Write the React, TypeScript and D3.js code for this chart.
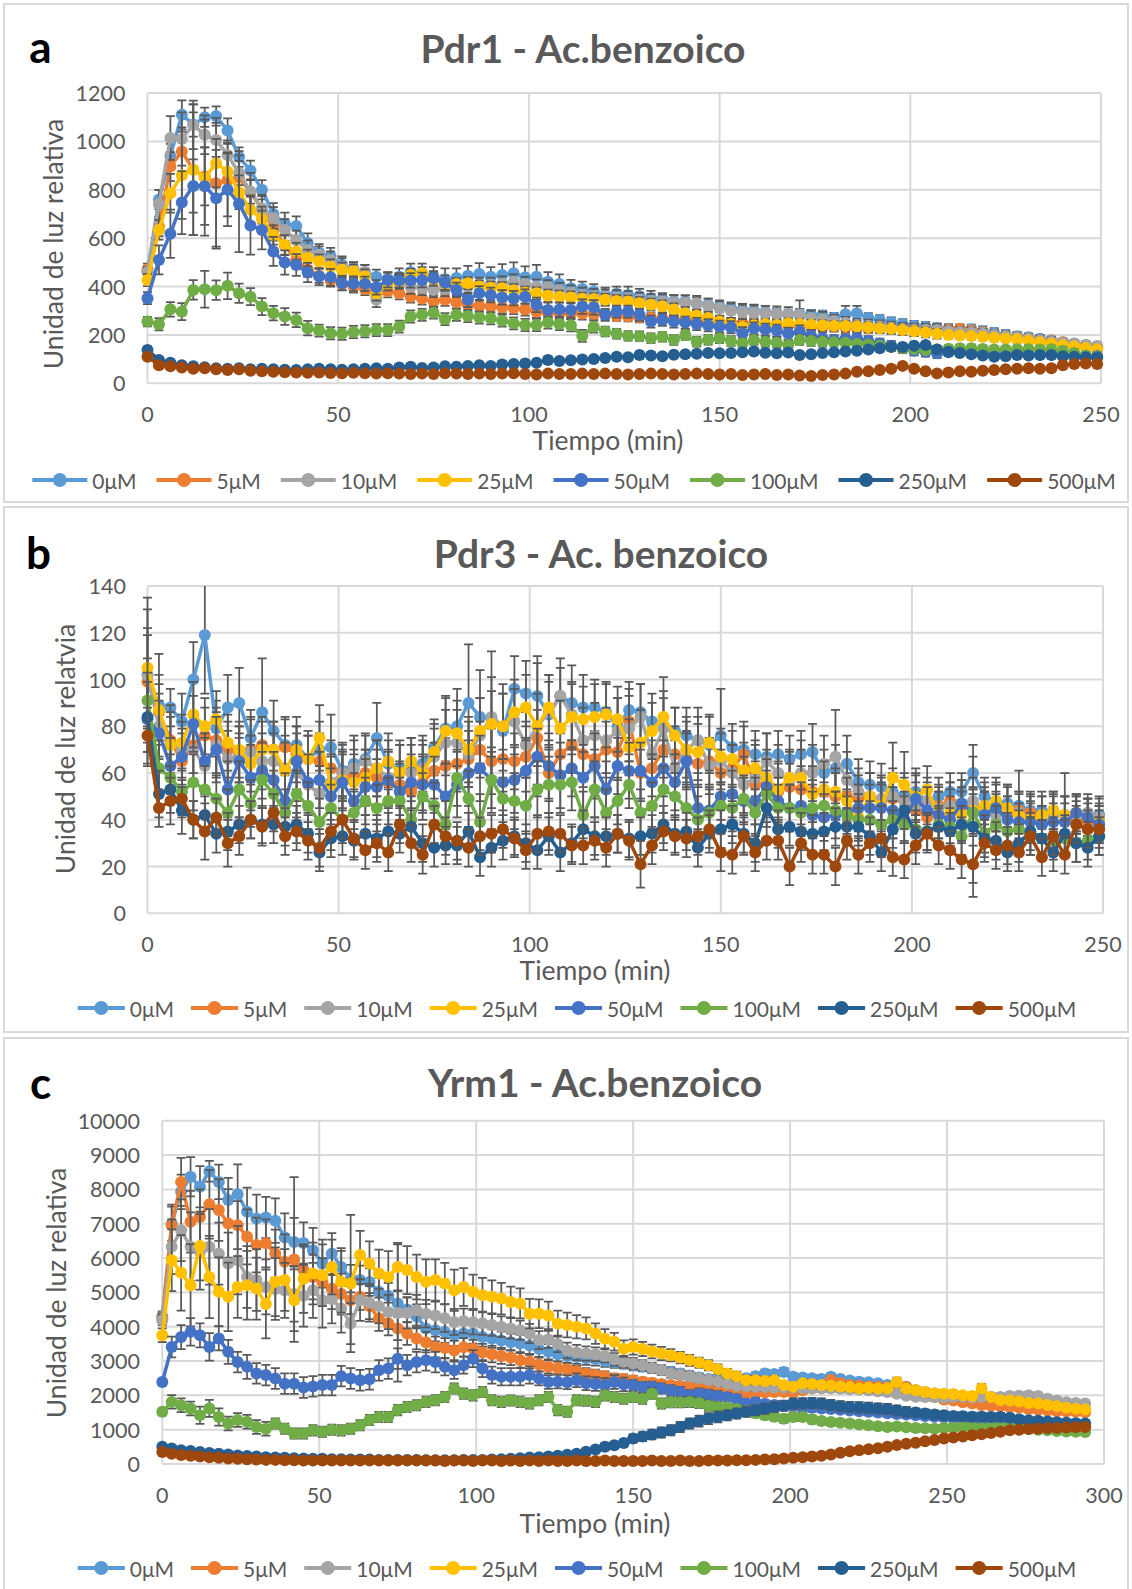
import React from 'react';
import * as d3 from 'd3';

const CONC = ['0μM', '5μM', '10μM', '25μM', '50μM', '100μM', '250μM', '500μM'];
const COLORS = ['#5B9BD5', '#ED7D31', '#A5A5A5', '#FFC000', '#4472C4', '#70AD47', '#255E91', '#9E480E'];
const STEP_MIN = 3;

// ---------- Panel a : Pdr1 ----------
const pdr1_0 = [460,760,940,1110,1070,1100,1105,1045,935,880,800,700,660,650,580,540,525,490,470,460,440,430,440,460,455,440,430,435,445,452,440,448,455,438,440,420,410,393,390,380,365,370,365,360,352,348,340,338,330,325,318,310,303,300,295,290,285,288,283,280,271,285,290,270,262,252,245,238,234,228,225,224,223,215,208,200,195,190,184,178,170,165,158,151];
const pdr1_5 = [470,648,896,958,883,855,827,840,850,790,720,640,570,510,470,445,425,410,400,390,360,380,372,358,350,338,345,335,324,320,317,314,311,305,296,292,290,290,288,286,284,278,276,272,270,268,266,262,260,256,252,250,248,246,245,243,240,238,236,234,234,232,230,228,228,226,224,225,222,220,222,225,218,210,200,195,190,185,179,175,170,162,156,150];
const pdr1_10 = [460,740,1014,1010,1068,1027,1006,944,869,793,724,683,634,591,551,531,510,482,471,460,345,427,420,400,395,386,390,395,400,407,407,412,420,410,400,397,385,375,365,360,358,355,352,345,340,338,335,333,331,320,310,300,295,292,290,288,285,283,270,265,258,250,241,238,235,230,225,222,221,220,216,212,210,205,200,195,190,185,178,172,168,162,158,154];
const pdr1_25 = [427,634,786,860,883,850,910,875,790,717,680,613,572,545,518,503,482,469,462,441,372,414,420,448,455,430,407,410,414,400,395,393,385,375,372,362,358,355,350,348,345,340,338,331,325,318,305,290,280,270,255,245,234,240,245,241,248,245,242,240,238,237,235,232,228,225,220,215,210,205,200,198,196,192,188,185,182,176,170,164,158,152,146,141];
const pdr1_50 = [352,510,618,747,816,815,765,800,742,652,634,545,499,489,458,441,438,414,412,411,397,427,425,425,427,434,416,386,345,372,365,355,352,358,324,303,305,303,317,314,283,296,296,283,255,262,255,251,245,240,234,232,207,227,222,218,205,214,196,186,179,183,186,175,165,155,145,135,130,124,128,130,132,128,125,124,122,120,118,118,116,115,114,113];
const pdr1_100 = [255,244,306,296,386,389,385,403,372,358,317,290,276,262,228,218,207,205,212,215,220,220,234,276,283,292,265,283,278,272,269,259,248,241,241,251,245,240,196,234,214,205,196,195,186,192,179,200,172,180,186,175,165,179,172,168,158,179,175,172,170,168,162,160,155,150,145,142,138,140,143,145,145,142,140,140,141,141,140,141,135,125,115,110];
const pdr1_250 = [138,96,85,75,70,66,62,60,62,58,60,58,56,55,58,60,58,56,58,60,62,60,65,68,63,65,70,68,72,75,72,78,80,82,85,96,92,95,98,100,105,110,108,117,115,112,118,120,122,125,124,125,128,131,126,124,127,117,120,125,128,131,135,140,145,151,150,155,158,140,130,125,120,115,110,112,117,115,117,117,112,110,108,107];
const pdr1_500 = [110,75,70,65,60,62,58,55,58,52,50,48,46,45,44,45,43,42,44,42,40,42,40,38,40,38,42,40,38,40,38,40,42,38,36,40,38,38,40,38,40,38,36,38,40,38,36,38,40,38,36,38,34,36,38,34,36,32,30,34,36,40,48,50,55,60,72,60,50,41,45,50,48,52,55,58,60,62,60,62,75,80,82,80];

const pdr1_0e = [25,40,50,60,50,40,40,50,40,40,40,45,45,40,40,35,35,35,30,30,30,30,35,35,40,40,45,40,40,45,40,45,45,45,50,40,40,35,30,30,30,30,35,30,30,25,25,25,25,25,25,25,25,25,25,20,20,20,20,20,20,35,30,20,20,20,20,20,20,20,20,20,20,20,20,20,15,15,15,15,15,15,15,15];
const pdr1_5e = [25,40,60,100,270,120,270,150,110,80,60,50,40,35,30,30,25,25,25,25,25,25,25,25,25,25,25,25,25,25,25,25,25,25,25,25,25,25,25,20,20,20,20,20,20,20,20,20,20,20,20,20,20,20,20,20,20,20,20,20,20,20,20,20,20,20,20,20,20,20,15,15,15,15,15,15,15,15,15,15,15,15,15,15];
const pdr1_10e = [20,60,90,110,100,80,70,60,50,50,50,45,45,40,40,35,35,35,30,30,30,30,30,30,30,30,30,30,30,30,30,30,30,30,30,30,30,30,30,30,30,30,30,30,30,30,30,30,30,30,30,30,30,30,30,30,30,60,30,30,25,25,25,25,25,25,25,25,25,25,20,20,20,20,20,20,20,20,20,20,15,15,15,15];
const pdr1_25e = [25,40,80,180,270,240,100,80,70,60,50,40,40,35,35,30,30,30,30,30,30,30,25,25,25,25,25,25,25,25,25,25,25,25,25,25,25,25,25,25,25,25,25,25,25,25,25,25,25,25,20,20,20,20,20,20,20,20,20,20,20,20,20,20,20,20,20,20,20,20,15,15,15,15,15,15,15,15,15,15,15,15,15,15];
const pdr1_50e = [25,60,100,130,110,160,200,150,200,120,80,60,50,45,40,35,35,30,30,30,30,30,30,30,30,30,30,30,30,30,30,30,30,30,30,30,30,30,30,30,25,25,25,25,25,25,25,25,25,25,25,25,25,25,25,25,25,25,25,25,20,20,20,20,20,20,20,20,20,20,15,15,15,15,15,15,15,15,15,15,15,15,15,15];
const pdr1_100e = [20,25,30,35,40,76,40,55,40,35,35,30,35,30,30,25,25,25,25,25,25,25,25,25,25,25,25,25,25,25,25,25,25,25,25,25,25,25,25,25,20,20,20,20,20,20,20,20,20,20,20,20,20,20,20,20,20,20,20,20,15,15,15,15,15,15,15,15,15,15,15,15,15,15,15,15,15,15,15,15,15,15,15,15];
const pdr1_250e = [15,12,10,10,10,10,10,10,10,10,10,10,10,10,10,10,10,10,10,10,10,10,10,10,10,10,10,10,10,10,12,12,12,12,12,15,12,12,12,12,12,12,12,15,12,12,12,12,12,12,12,12,12,15,12,12,12,12,12,12,12,12,12,12,12,15,12,12,12,12,12,12,12,12,12,12,12,12,12,12,10,10,10,10];
const pdr1_500e = [12,10,8,8,8,8,8,8,8,8,8,8,8,8,8,8,8,8,8,8,8,8,8,8,8,8,8,8,8,8,8,8,8,8,8,8,8,8,8,8,8,8,8,8,8,8,8,8,8,8,8,8,8,8,8,8,8,8,8,8,8,8,8,8,8,8,10,8,8,8,8,8,8,8,8,8,8,8,8,8,8,8,8,8];

// ---------- Panel b : Pdr3 ----------
const pdr3_0 = [102,89,88,82,100,119,79,88,90,75,86,78,72,72,66,70,71,61,64,66,75,64,62,63,64,71,79,80,90,84,83,78,96,94,93,85,93,90,88,88,86,80,87,86,82,80,78,76,74,72,76,71,70,68,67,68,66,68,69,60,62,64,56,55,54,52,50,52,48,50,52,52,60,50,48,47,46,44,44,43,42,42,41,42];
const pdr3_5 = [99,86,74,65,72,76,74,70,68,70,72,70,71,68,66,65,62,60,58,60,58,56,55,52,56,61,63,64,66,70,65,66,65,67,75,60,68,72,68,66,70,69,82,60,62,70,68,66,64,65,60,62,68,55,56,52,54,53,52,52,50,50,49,50,48,49,48,44,41,46,48,46,45,44,43,42,44,43,42,44,42,40,39,38];
const pdr3_10 = [102,80,72,70,70,63,72,66,68,69,65,65,62,60,55,51,56,60,62,65,62,58,60,60,62,67,73,73,68,76,84,80,82,72,80,86,93,85,74,76,74,78,79,84,68,79,62,70,74,63,65,60,55,58,65,60,57,60,60,64,67,57,52,50,49,50,48,46,48,45,46,47,48,44,42,44,43,40,38,42,42,42,43,41];
const pdr3_25 = [105,87,72,73,85,80,83,73,70,64,70,70,61,70,66,75,55,57,56,58,62,65,60,65,60,69,78,77,70,78,81,80,86,88,80,88,79,84,83,84,85,83,71,73,78,84,76,70,69,73,67,66,61,62,58,53,58,58,51,53,52,48,41,50,46,58,55,50,53,42,43,42,44,46,48,45,42,40,42,44,42,43,41,39];
const pdr3_50 = [83,77,63,67,81,65,70,53,65,58,61,57,48,65,56,57,50,56,48,54,54,57,52,56,55,55,50,55,60,62,57,56,57,61,67,63,59,62,58,63,53,63,61,61,56,62,56,65,45,44,50,51,48,48,54,48,45,46,42,41,42,43,45,45,45,44,40,49,44,42,40,47,43,42,45,40,39,39,38,39,39,43,41,38];
const pdr3_100 = [91,62,58,52,56,53,49,43,53,47,57,51,43,51,46,39,45,40,43,48,45,48,48,40,50,46,38,58,49,39,57,49,48,46,53,55,55,56,42,53,43,48,55,43,46,53,50,45,40,43,46,45,49,43,51,45,45,43,45,46,44,42,40,40,38,40,38,36,35,38,37,33,43,34,38,35,36,33,32,31,32,30,31,33];
const pdr3_250 = [84,51,53,44,40,42,34,35,38,40,38,38,37,38,34,26,32,33,31,34,32,35,34,37,30,28,29,29,35,24,28,31,33,30,27,33,26,30,36,33,33,34,32,33,34,38,34,35,28,34,36,38,34,30,45,36,37,35,34,35,37,37,37,33,26,36,44,34,35,37,35,38,37,32,31,26,30,35,32,26,34,30,28,33];
const pdr3_500 = [76,45,48,49,40,35,41,30,33,40,37,43,33,35,31,28,35,40,32,27,30,26,38,30,25,38,33,31,28,33,34,36,32,27,34,35,34,29,29,31,28,34,31,21,29,35,33,32,33,36,26,25,33,26,31,31,20,30,25,25,20,31,25,30,32,24,23,29,34,29,27,23,21,30,27,29,26,33,24,33,25,38,36,36];

const pdr3_0e = [33,22,8,12,16,25,12,14,15,12,23,13,12,12,10,12,14,12,12,10,15,10,12,12,12,12,14,16,25,20,18,20,14,14,14,14,12,16,14,12,12,12,12,12,12,12,10,12,10,12,20,10,12,10,10,10,10,10,12,10,10,12,10,10,10,10,10,10,8,8,8,8,12,8,8,8,15,8,8,8,8,8,8,8];
const pdr3_5e = [20,12,15,12,12,12,14,12,12,14,12,12,12,12,10,12,12,10,12,10,12,10,10,10,12,12,12,12,12,12,14,14,12,15,12,12,12,12,14,12,12,12,14,12,12,12,12,12,10,10,10,10,12,10,10,12,10,10,10,10,10,10,10,10,10,8,8,8,8,8,8,8,8,8,8,8,8,8,8,8,18,8,8,8];
const pdr3_10e = [20,14,12,12,14,12,14,12,12,14,12,12,14,12,12,12,12,12,12,12,12,12,12,12,12,12,14,14,14,16,28,14,14,14,14,16,16,14,14,14,14,14,14,14,12,16,12,14,14,12,12,12,12,14,12,12,12,14,12,12,20,12,10,10,10,10,10,10,10,10,10,10,10,10,10,10,8,8,8,8,8,8,8,8];
const pdr3_25e = [25,15,14,12,14,12,12,12,12,12,12,12,12,10,12,14,12,12,12,12,12,12,12,10,12,12,14,14,14,14,14,14,14,14,30,14,12,14,14,14,14,14,12,14,12,17,12,12,12,12,12,12,12,12,12,12,12,12,12,12,10,10,10,10,10,15,14,10,10,10,10,10,10,10,10,10,10,10,8,8,8,8,8,8];
const pdr3_50e = [20,14,12,12,12,12,14,12,12,14,12,12,12,12,12,12,12,12,12,12,12,12,12,12,12,12,14,14,14,14,14,14,14,14,12,14,14,12,14,14,12,12,12,12,12,12,12,12,10,10,10,10,10,10,12,10,10,10,10,10,10,10,10,10,10,10,10,10,10,10,10,10,10,10,10,10,8,8,8,8,8,8,8,8];
const pdr3_100e = [18,12,10,10,12,10,10,10,12,10,12,10,10,10,10,10,10,10,10,10,10,10,10,10,10,10,10,12,12,12,12,12,12,12,12,12,12,12,10,12,10,10,10,10,10,10,10,10,10,10,10,10,10,10,10,10,10,10,10,10,8,8,8,8,8,8,8,8,8,8,8,8,8,8,8,8,8,8,8,8,8,8,8,8];
const pdr3_250e = [15,10,10,10,8,8,8,8,8,8,8,8,8,8,8,8,8,8,8,8,8,8,8,8,8,8,8,8,8,8,8,8,8,8,8,8,8,8,8,8,8,8,8,8,8,8,8,8,8,8,8,8,8,8,8,8,8,8,8,8,8,8,8,8,8,8,8,8,8,8,8,8,30,8,8,8,8,8,8,8,8,8,8,8];
const pdr3_500e = [12,8,10,8,8,12,8,10,8,8,8,8,8,8,8,8,8,8,8,8,8,8,8,8,8,8,8,8,8,8,8,8,8,8,8,8,8,8,8,8,8,8,8,10,8,8,8,8,8,8,8,8,8,8,8,8,8,8,8,8,8,8,8,8,8,8,8,8,8,8,8,8,8,8,8,8,8,8,8,8,8,8,8,8];

// ---------- Panel c : Yrm1 ----------
const yrm1_0 = [4300,7000,7930,8370,8080,8530,8220,7690,7860,7350,7150,7180,7090,6600,6470,6440,6230,5840,6130,5740,5400,5360,5300,5020,4900,4680,4500,4300,3950,3900,3850,3750,3800,3800,3700,3650,3600,3550,3510,3450,3350,3270,3200,3150,3120,3080,3050,3000,2960,2930,2880,2840,2790,2740,2690,2640,2580,2520,2480,2440,2420,2450,2500,2560,2640,2620,2680,2540,2520,2500,2480,2540,2480,2430,2400,2380,2350,2300,2280,2250,2150,2100,2050,1950,1900,1870,1830,1800,1760,1730,1700,1680,1650,1630,1620,1610,1600,1600,1590];
const yrm1_5 = [4240,6960,8220,7060,7200,7570,7400,7010,6960,6620,6380,6430,6130,5890,5960,5650,5450,5300,5110,4950,4770,4870,4600,4240,4100,3950,3800,3660,3550,3410,3380,3310,3400,3360,3250,3200,3150,3100,3020,2980,2900,2830,2800,2760,2700,2640,2600,2560,2490,2480,2440,2400,2370,2330,2300,2280,2250,2220,2200,2150,2100,2060,2050,2040,2080,2100,2100,2080,2150,2200,2250,2450,2350,2300,2280,2260,2250,2240,2230,2245,2150,2050,1950,1880,1850,1800,1760,1720,1700,1680,1660,1640,1600,1580,1560,1540,1530,1520,1510];
const yrm1_10 = [4190,6330,6810,6330,6180,6330,6130,5840,5940,5450,5360,5160,5100,5060,4950,4900,5060,4770,4800,4530,4090,4770,4700,4600,4430,4400,4400,4480,4380,4330,4250,4140,4170,4130,4100,4050,4000,3950,3900,3800,3610,3630,3500,3310,3250,3220,3200,3150,3050,2980,2930,2880,2800,2740,2640,2600,2560,2500,2450,2400,2340,2280,2260,2250,2240,2230,2230,2220,2210,2200,2200,2200,2190,2180,2170,2150,2120,2100,2050,1990,1960,1950,1950,1940,1950,1960,1940,1950,1960,1950,1980,1990,2000,1980,1900,1850,1800,1780,1760];
const yrm1_25 = [3750,5940,5570,5210,6350,5450,5020,4870,5160,5210,5110,4660,5310,5360,4770,5400,5550,5500,5740,5310,5260,6090,5840,5550,5450,5740,5650,5450,5310,5360,5260,5060,5160,5020,4920,4870,4820,4720,4680,4380,4380,4330,4090,4050,4000,3950,3800,3650,3560,3360,3410,3350,3280,3220,3170,3100,3020,2950,2880,2760,2640,2560,2440,2440,2420,2440,2300,2250,2350,2330,2300,2280,2260,2240,2200,2220,2200,2210,2390,2200,2150,2100,2060,2050,2040,2000,1980,2200,1950,1860,1850,1820,1780,1760,1720,1680,1640,1610,1585];
const yrm1_50 = [2390,3410,3700,3850,3750,3410,3660,3270,2970,2830,2640,2590,2490,2340,2340,2230,2260,2300,2300,2560,2490,2440,2470,2730,2780,3070,2880,2970,3020,2970,2830,2730,2880,3070,2780,2590,2540,2540,2540,2590,2490,2390,2400,2380,2440,2350,2330,2300,2390,2320,2300,2245,2250,2200,2150,2100,2003,2050,2020,1980,1950,1900,1760,1800,1750,1720,1700,1680,1650,1640,1620,1600,1580,1560,1540,1520,1500,1480,1460,1440,1420,1400,1380,1360,1340,1320,1300,1280,1260,1240,1220,1200,1180,1160,1150,1140,1130,1120,1110];
const yrm1_100 = [1520,1810,1710,1620,1420,1620,1370,1180,1280,1230,1080,1030,1180,1030,890,890,980,940,1000,980,1030,1130,1280,1370,1370,1570,1660,1710,1810,1860,1950,2200,2050,2000,2100,1860,1810,1850,1810,1760,1860,1950,1570,1520,1860,1840,1810,2000,1950,1900,1950,1900,2050,1760,1800,1800,1810,1780,1700,1660,1650,1600,1550,1480,1420,1380,1320,1370,1370,1300,1250,1225,1200,1180,1150,1130,1100,1080,1090,1070,1050,1040,1030,1050,1060,1080,1070,1050,1070,1080,1060,1040,1020,1000,980,960,950,940,930];
const yrm1_250 = [500,450,400,380,350,320,300,280,250,230,220,200,190,180,170,160,150,150,140,140,130,130,130,120,120,120,120,120,110,110,110,110,120,120,120,130,140,150,170,190,200,220,240,270,300,360,420,500,545,610,740,800,860,920,982,1080,1178,1250,1324,1370,1420,1469,1520,1565,1610,1662,1700,1760,1770,1779,1760,1720,1680,1662,1650,1640,1615,1600,1560,1516,1500,1470,1440,1420,1400,1390,1380,1375,1370,1370,1350,1300,1274,1260,1240,1220,1200,1190,1178];
const yrm1_500 = [350,300,260,240,220,200,180,160,150,140,130,120,120,110,110,100,100,100,100,100,100,100,100,100,100,100,100,100,100,100,90,100,100,90,100,100,90,100,90,100,90,100,90,90,100,90,90,100,90,90,90,90,100,90,90,100,90,90,100,100,100,110,110,120,130,140,160,180,200,220,240,280,330,370,400,430,460,500,550,590,620,660,700,740,770,800,840,870,900,940,980,1000,1020,1030,1040,1050,1060,1070,1080];

const yrm1_0e = [150,500,500,570,600,300,500,650,870,700,700,600,650,700,700,600,650,700,600,550,400,420,400,400,380,380,360,350,340,330,320,310,300,290,280,270,260,250,250,240,230,220,210,200,200,190,180,170,160,150,150,140,140,130,130,120,120,120,110,110,110,110,110,110,110,110,120,100,100,100,100,100,100,100,100,100,90,90,90,90,90,90,90,90,90,80,80,80,80,80,80,80,80,80,80,80,80,80,80];
const yrm1_5e = [150,600,700,900,800,1000,900,1000,700,800,800,700,700,800,2400,700,650,700,600,600,400,380,380,360,350,340,330,320,300,300,290,280,270,260,250,240,230,220,210,200,200,190,180,170,160,150,150,140,140,130,130,120,120,110,110,110,110,100,100,100,100,100,100,100,100,100,100,100,100,100,100,100,100,100,100,100,90,90,90,90,90,90,90,90,90,80,80,80,80,80,80,80,80,80,80,80,80,80,80];
const yrm1_10e = [150,800,900,1000,1100,1100,900,900,1000,900,900,800,900,800,800,900,800,800,700,700,600,600,550,500,500,2000,450,450,400,400,400,380,360,350,340,320,300,300,280,280,260,250,240,230,220,210,200,190,180,170,160,150,150,140,140,130,130,120,120,120,110,110,110,110,110,110,110,100,100,100,100,100,100,100,100,100,100,100,100,100,100,100,100,100,100,100,100,100,100,100,100,100,100,100,100,90,90,90,90];
const yrm1_25e = [200,900,1100,1200,1000,1200,1000,1000,900,1000,900,1000,1000,900,900,1000,900,900,800,900,2000,700,650,700,750,700,700,650,650,600,600,600,550,500,500,480,460,450,440,430,420,400,380,360,340,320,300,280,260,240,220,210,200,190,180,170,160,150,150,140,130,130,120,120,120,120,110,110,110,110,110,110,110,110,110,110,110,110,130,110,100,100,100,100,100,100,100,130,100,100,100,100,100,100,90,90,90,90,90];
const yrm1_50e = [100,300,350,400,350,400,350,350,300,350,300,300,300,300,300,300,300,300,300,300,300,300,300,300,300,300,300,300,300,300,250,250,250,250,250,250,250,250,250,250,200,200,200,200,200,200,200,200,200,200,150,150,150,150,150,150,150,150,150,150,120,120,120,120,120,120,120,120,120,120,100,100,100,100,100,100,100,100,100,100,100,100,100,100,100,100,100,100,100,100,90,90,90,90,90,90,90,90,90];
const yrm1_100e = [100,200,200,200,250,250,250,200,200,200,200,200,150,150,150,150,150,150,150,150,150,150,150,150,150,150,150,150,150,150,150,150,150,150,150,150,150,150,150,150,150,150,150,150,150,150,150,150,150,150,150,150,150,150,150,150,150,150,150,150,120,120,120,120,120,120,120,120,120,120,100,100,100,100,100,100,100,100,100,100,100,100,100,100,100,100,100,100,100,100,90,90,90,90,90,90,90,90,90];
const yrm1_250e = [80,60,60,60,60,60,60,60,60,60,60,60,60,60,60,60,60,60,60,60,60,60,60,60,60,60,60,60,60,60,60,60,60,60,60,60,60,60,60,60,80,80,80,80,80,80,80,100,100,100,120,130,140,150,150,150,150,160,160,160,150,150,150,150,150,150,150,150,150,150,150,150,150,150,150,150,150,150,150,150,120,120,120,120,120,120,120,120,120,120,100,100,100,100,100,100,100,100,100];
const yrm1_500e = [60,50,50,50,50,50,50,50,50,50,50,50,50,50,50,50,50,50,50,50,50,50,50,50,50,50,50,50,50,50,50,50,50,50,50,50,50,50,50,50,50,50,50,50,50,50,50,50,50,50,50,50,50,50,50,50,50,50,50,50,50,50,50,50,50,50,50,50,50,50,60,60,60,60,60,60,60,60,60,60,60,60,60,60,60,60,60,60,60,60,60,60,60,60,60,60,60,60,60];

// ---------- ticks ----------
const X_TICKS_A = [0, 50, 100, 150, 200, 250];
const Y_TICKS_A = [0, 200, 400, 600, 800, 1000, 1200];
const X_TICKS_B = [0, 50, 100, 150, 200, 250];
const Y_TICKS_B = [0, 20, 40, 60, 80, 100, 120, 140];
const X_TICKS_C = [0, 50, 100, 150, 200, 250, 300];
const Y_TICKS_C = [0, 1000, 2000, 3000, 4000, 5000, 6000, 7000, 8000, 9000, 10000];

const FONT = "Lato, 'Open Sans', sans-serif";
const TXT = '#595959';
const GRID = '#d9d9d9';
const ERR = '#595959';
const TICK_SIZE = 21.5;
const AXIS_TITLE_SIZE = 26.5;
const TITLE_SIZE = 39;

type Legend = { y: number; cx: number; line: number; gap: number; itemGap: number; size: number };
type PanelCfg = {
  id: string; letter: string; title: string; yTitle: string;
  values: number[][]; errors: number[][];
  xTicks: number[]; yTicks: number[];
  frame: [number, number, number, number];
  plot: [number, number, number, number];
  titleXY: [number, number]; letterXY: [number, number];
  xTitleXY: [number, number]; yTitleXY: [number, number];
  yLabelX: number; xLabelY: number; legend: Legend;
};

const PANELS: PanelCfg[] = [
  {
    id: 'a', letter: 'a', title: 'Pdr1 - Ac.benzoico', yTitle: 'Unidad de luz relativa',
    values: [pdr1_0, pdr1_5, pdr1_10, pdr1_25, pdr1_50, pdr1_100, pdr1_250, pdr1_500],
    errors: [pdr1_0e, pdr1_5e, pdr1_10e, pdr1_25e, pdr1_50e, pdr1_100e, pdr1_250e, pdr1_500e],
    xTicks: X_TICKS_A, yTicks: Y_TICKS_A,
    frame: [4, 4, 1124, 498], plot: [147.5, 93, 1101, 383.3],
    titleXY: [583, 48], letterXY: [40.5, 46], xTitleXY: [608, 440], yTitleXY: [53, 244],
    yLabelX: 125.5, xLabelY: 414,
    legend: { y: 480, cx: 574, line: 55, gap: 5, itemGap: 20, size: 21 },
  },
  {
    id: 'b', letter: 'b', title: 'Pdr3 - Ac. benzoico', yTitle: 'Unidad de luz relatvia',
    values: [pdr3_0, pdr3_5, pdr3_10, pdr3_25, pdr3_50, pdr3_100, pdr3_250, pdr3_500],
    errors: [pdr3_0e, pdr3_5e, pdr3_10e, pdr3_25e, pdr3_50e, pdr3_100e, pdr3_250e, pdr3_500e],
    xTicks: X_TICKS_B, yTicks: Y_TICKS_B,
    frame: [4, 507, 1124, 525], plot: [147.5, 586, 1103, 913.3],
    titleXY: [601, 553], letterXY: [38.5, 552], xTitleXY: [595, 970], yTitleXY: [65, 749],
    yLabelX: 126, xLabelY: 943.5,
    legend: { y: 1008, cx: 577, line: 47, gap: 5, itemGap: 17, size: 21 },
  },
  {
    id: 'c', letter: 'c', title: 'Yrm1 - Ac.benzoico', yTitle: 'Unidad de luz relativa',
    values: [yrm1_0, yrm1_5, yrm1_10, yrm1_25, yrm1_50, yrm1_100, yrm1_250, yrm1_500],
    errors: [yrm1_0e, yrm1_5e, yrm1_10e, yrm1_25e, yrm1_50e, yrm1_100e, yrm1_250e, yrm1_500e],
    xTicks: X_TICKS_C, yTicks: Y_TICKS_C,
    frame: [4, 1038, 1124, 600], plot: [162.3, 1120.8, 1104, 1464],
    titleXY: [595, 1082], letterXY: [40.5, 1082], xTitleXY: [595, 1523], yTitleXY: [56, 1293],
    yLabelX: 140, xLabelY: 1494.5,
    legend: { y: 1568, cx: 577, line: 47, gap: 5, itemGap: 17, size: 21 },
  },
];

let measureCtx: CanvasRenderingContext2D | null = null;
function textW(s: string, font: string): number {
  if (!measureCtx && typeof document !== 'undefined') {
    measureCtx = document.createElement('canvas').getContext('2d');
  }
  if (!measureCtx) return s.length * 11;
  measureCtx.font = font;
  return measureCtx.measureText(s).width;
}

const CAP = 4.5;

function Panel({ p }: { p: PanelCfg }) {
  const [pl, pt, pr, pb] = p.plot;
  const xMax = p.xTicks[p.xTicks.length - 1];
  const yMax = p.yTicks[p.yTicks.length - 1];
  const x = d3.scaleLinear().domain([0, xMax]).range([pl, pr]);
  const y = d3.scaleLinear().domain([0, yMax]).range([pb, pt]);
  const line = d3.line<[number, number]>().x(d => d[0]).y(d => d[1]);
  const clipId = `clip-${p.id}`;

  const lg = p.legend;
  const lfont = `${lg.size}px Lato`;
  const tw = CONC.map(s => textW(s, lfont));
  const total = d3.sum(tw) + CONC.length * (lg.line + lg.gap) + (CONC.length - 1) * lg.itemGap;
  let cur = lg.cx - total / 2;
  const items = CONC.map((s, k) => {
    const x0 = cur;
    cur += lg.line + lg.gap + tw[k] + lg.itemGap;
    return { x0, s, k };
  });

  return (
    <g>
      <rect x={p.frame[0]} y={p.frame[1]} width={p.frame[2]} height={p.frame[3]} fill="#fff" stroke={GRID} strokeWidth={2} />
      <clipPath id={clipId}>
        <rect x={pl - 10} y={pt} width={pr - pl + 20} height={pb - pt} />
      </clipPath>
      {p.yTicks.map(t => (
        <line key={'gy' + t} x1={pl} x2={pr} y1={y(t)} y2={y(t)} stroke={GRID} strokeWidth={2} />
      ))}
      {p.xTicks.map(t => (
        <line key={'gx' + t} x1={x(t)} x2={x(t)} y1={pt} y2={pb} stroke={GRID} strokeWidth={2} />
      ))}
      {p.yTicks.map(t => (
        <text key={'ly' + t} x={p.yLabelX} y={y(t)} textAnchor="end" dominantBaseline="central" fontFamily={FONT} fontSize={TICK_SIZE} fill={TXT}>{t}</text>
      ))}
      {p.xTicks.map(t => (
        <text key={'lx' + t} x={x(t)} y={p.xLabelY} textAnchor="middle" dominantBaseline="central" fontFamily={FONT} fontSize={TICK_SIZE} fill={TXT}>{t}</text>
      ))}
      <text x={p.titleXY[0]} y={p.titleXY[1]} textAnchor="middle" dominantBaseline="central" fontFamily={FONT} fontSize={TITLE_SIZE} fontWeight="bold" fill={TXT}>{p.title}</text>
      <text x={p.letterXY[0]} y={p.letterXY[1]} textAnchor="middle" dominantBaseline="central" fontFamily={FONT} fontSize={44} fontWeight="bold" fill="#000">{p.letter}</text>
      <text x={p.xTitleXY[0]} y={p.xTitleXY[1]} textAnchor="middle" dominantBaseline="central" fontFamily={FONT} fontSize={AXIS_TITLE_SIZE} fill={TXT}>Tiempo (min)</text>
      <text transform={`translate(${p.yTitleXY[0]},${p.yTitleXY[1]}) rotate(-90)`} textAnchor="middle" dominantBaseline="central" fontFamily={FONT} fontSize={AXIS_TITLE_SIZE} fill={TXT}>{p.yTitle}</text>

      {p.values.map((vals, k) => {
        const pts = vals.map((v, i) => [x(i * STEP_MIN), y(v)] as [number, number]);
        const errs = p.errors[k] || [];
        return (
          <g key={'s' + k}>
            <g clipPath={`url(#${clipId})`} stroke={ERR} strokeWidth={1.75} fill="none">
              {vals.map((v, i) => {
                const e = errs[i];
                if (!e) return null;
                const cx = pts[i][0];
                const y1 = y(v + e);
                const y2 = y(v - e);
                return <path key={i} d={`M${cx},${y1}V${y2}M${cx - CAP},${y1}H${cx + CAP}M${cx - CAP},${y2}H${cx + CAP}`} />;
              })}
            </g>
            <path d={line(pts) || ''} fill="none" stroke={COLORS[k]} strokeWidth={3.5} strokeLinejoin="round" />
            {pts.map((q, i) => (
              <circle key={i} cx={q[0]} cy={q[1]} r={6} fill={COLORS[k]} />
            ))}
          </g>
        );
      })}

      {items.map(it => (
        <g key={'lg' + it.k}>
          <line x1={it.x0} x2={it.x0 + lg.line} y1={lg.y} y2={lg.y} stroke={COLORS[it.k]} strokeWidth={4} />
          <circle cx={it.x0 + lg.line / 2} cy={lg.y} r={7} fill={COLORS[it.k]} />
          <text x={it.x0 + lg.line + lg.gap} y={lg.y} dominantBaseline="central" fontFamily={FONT} fontSize={lg.size} fill={TXT}>{it.s}</text>
        </g>
      ))}
    </g>
  );
}

export default function App() {
  return (
    <svg width={1132} height={1589} viewBox="0 0 1132 1589" style={{ position: 'absolute', left: 0, top: 0, background: '#fff' }}>
      <rect x={0} y={0} width={1132} height={1589} fill="#fff" />
      {PANELS.map(p => <Panel key={p.id} p={p} />)}
    </svg>
  );
}
